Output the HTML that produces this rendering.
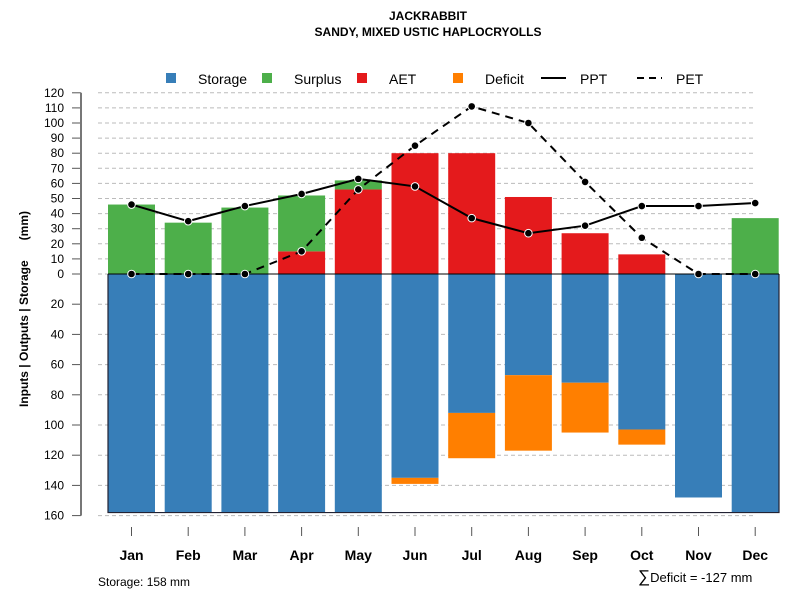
<!DOCTYPE html>
<html><head><meta charset="utf-8"><style>
body{margin:0;background:#fff}
svg{display:block;font-family:"Liberation Sans",Arial,sans-serif}
</style></head><body>
<svg id="chart" width="800" height="600" viewBox="0 0 800 600" xmlns="http://www.w3.org/2000/svg">
<text x="428" y="20" text-anchor="middle" font-size="12" font-weight="bold">JACKRABBIT</text>
<text x="428" y="36" text-anchor="middle" font-size="12" font-weight="bold">SANDY, MIXED USTIC HAPLOCRYOLLS</text>
<g font-size="14">
<rect x="166" y="73" width="10" height="10" fill="#377eb8"/><text x="198" y="84">Storage</text>
<rect x="262" y="73" width="10" height="10" fill="#4daf4a"/><text x="294" y="84">Surplus</text>
<rect x="357" y="73" width="10" height="10" fill="#e41a1c"/><text x="389" y="84">AET</text>
<rect x="453" y="73" width="10" height="10" fill="#ff7f00"/><text x="485" y="84">Deficit</text>
<line x1="541" y1="78" x2="566" y2="78" stroke="#000" stroke-width="2"/><text x="580" y="84">PPT</text>
<line x1="637" y1="78" x2="662" y2="78" stroke="#000" stroke-width="2" stroke-dasharray="7,5"/><text x="676" y="84">PET</text>
</g>
<g id="grid"></g><g id="axis"></g><g id="bars"></g><g id="lines"></g>
<text transform="translate(28,309) rotate(-90)" text-anchor="middle" font-size="12" font-weight="bold" style="white-space:pre" xml:space="preserve">Inputs | Outputs | Storage      (mm)</text>
<text x="98" y="586" font-size="12">Storage: 158 mm</text>
<text x="638" y="582" font-size="13"><tspan font-size="17">∑</tspan>Deficit = -127 mm</text>
</svg>
<script>
const months=["Jan","Feb","Mar","Apr","May","Jun","Jul","Aug","Sep","Oct","Nov","Dec"];
const storage=[158,158,158,158,158,135,92,67,72,103,148,158];
const deficit=[0,0,0,0,0,4,30,50,33,10,0,0];
const aet=[0,0,0,15,56,80,80,51,27,13,0,0];
const surplus=[46,34,44,37,6,0,0,0,0,0,0,37];
const ppt=[46,35,45,53,63,58,37,27,32,45,45,47];
const pet=[0,0,0,15,56,85,111,100,61,24,0,0];
const posTicks=[0,10,20,30,40,50,60,70,80,90,100,110,120];
const negTicks=[20,40,60,80,100,120,140,160];
const NS="http://www.w3.org/2000/svg";
const y0=274,k=1.51;
const yPos=v=>y0-v*k, yNeg=v=>y0+v*k;
const xC=i=>131.5+i*56.7, bw=47;
function mk(parent,tag,attrs){const e=document.createElementNS(NS,tag);for(const a in attrs)e.setAttribute(a,attrs[a]);document.getElementById(parent).appendChild(e);return e;}
posTicks.forEach(t=>{
 const g=mk('grid','line',{x1:98,x2:755,y1:yPos(t),y2:yPos(t),stroke:'#bbb','stroke-dasharray':'4,3'});
 
 
 mk('axis','line',{x1:72,x2:81,y1:yPos(t),y2:yPos(t),stroke:'#555'});
 const l=mk('axis','text',{x:64,y:yPos(t)+4,'text-anchor':'end','font-size':12});l.textContent=t;
 
 
});
negTicks.forEach(t=>{
 const g=mk('grid','line',{x1:98,x2:755,y1:yNeg(t),y2:yNeg(t),stroke:'#bbb','stroke-dasharray':'4,3'});
 
 
 mk('axis','line',{x1:72,x2:81,y1:yNeg(t),y2:yNeg(t),stroke:'#555'});
 const l=mk('axis','text',{x:64,y:yNeg(t)+4,'text-anchor':'end','font-size':12});l.textContent=t;
 
 
});
const ax=mk('axis','line',{x1:81,x2:81,y1:yPos(120),y2:yNeg(160),stroke:'#777','stroke-width':2});


months.forEach((m,i)=>{
 const x=xC(i);
 mk('axis','line',{x1:x,x2:x,y1:527,y2:536,stroke:'#555'});
 const l=mk('axis','text',{x:x,y:560,'text-anchor':'middle','font-size':14,'font-weight':'bold'});l.textContent=m;
 
 
 const sb=mk('bars','rect',{x:x-bw/2,y:y0,width:bw,height:storage[i]*k,fill:'#377eb8'});
 
 
 if(deficit[i]>0){const d=mk('bars','rect',{x:x-bw/2,y:yNeg(storage[i]),width:bw,height:deficit[i]*k,fill:'#ff7f00'});
 
 }
 if(aet[i]>0){const a=mk('bars','rect',{x:x-bw/2,y:yPos(aet[i]),width:bw,height:aet[i]*k,fill:'#e41a1c'});
 
 }
 if(surplus[i]>0){const s=mk('bars','rect',{x:x-bw/2,y:yPos(aet[i]+surplus[i]),width:bw,height:surplus[i]*k,fill:'#4daf4a'});
 
 }
});
const box=mk('bars','path',{d:`M108,${y0} V${yNeg(158)} H779 V${y0}`,fill:'none',stroke:'#223',"stroke-width":1.2});


const zl=mk('bars','line',{x1:108,x2:779,y1:y0,y2:y0,stroke:'#000'});


function series(vals,name,dash){
 const p=mk('lines','polyline',{points:vals.map((v,i)=>xC(i)+','+yPos(v)).join(' '),fill:'none',stroke:'#000','stroke-width':2,'stroke-dasharray':dash});
 
 
 vals.forEach((v,i)=>{const c=mk('lines','circle',{cx:xC(i),cy:yPos(v),r:3.8,fill:'#000',stroke:'#fff','stroke-width':1});
 
 });
}
series(pet,'pet','8,6');
series(ppt,'ppt','none');
</script>
</body></html>
